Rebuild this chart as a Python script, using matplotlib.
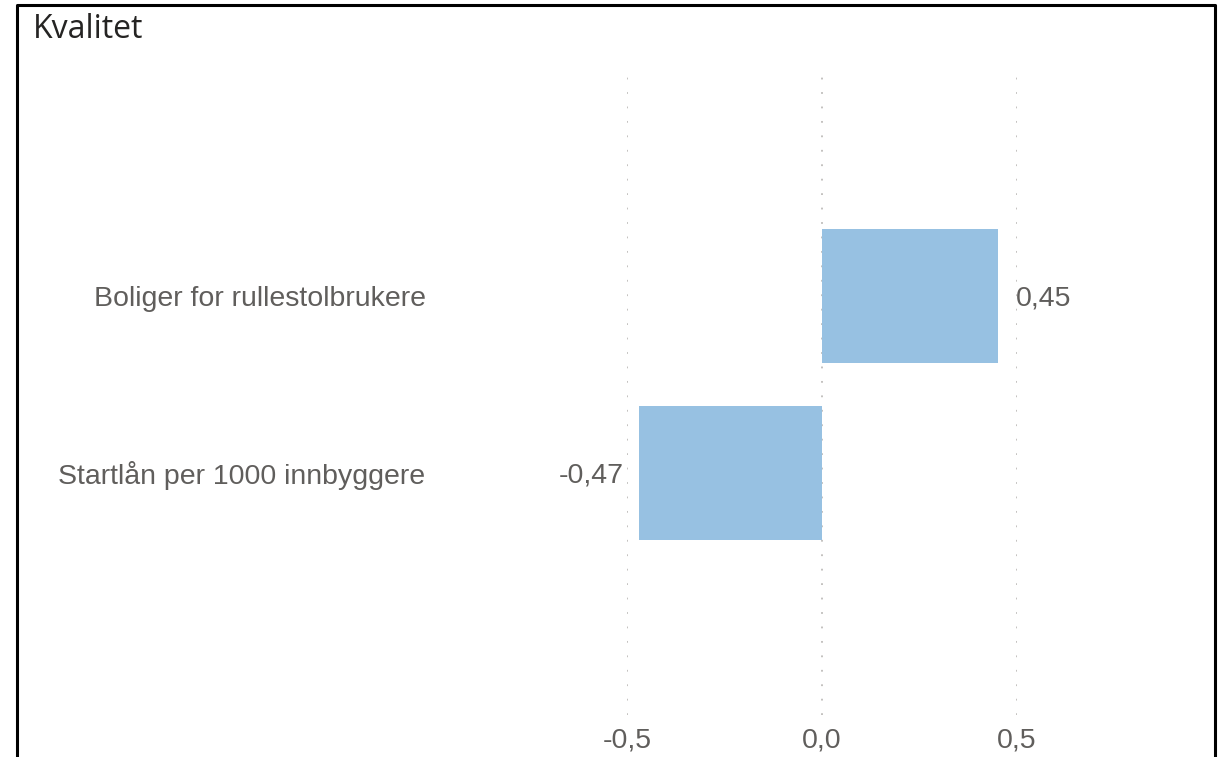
import matplotlib
matplotlib.use("Agg")
import matplotlib.pyplot as plt
from matplotlib.lines import Line2D

categories = ["Boliger for rullestolbrukere", "Startlån per 1000 innbyggere"]
values = [0.45, -0.47]
xticks = [-0.5, 0.0, 0.5]
title = "Kvalitet"

W, H = 1226, 757
fig = plt.figure(figsize=(W / 100, H / 100), dpi=100)
plt.rcParams['font.family'] = ['Liberation Sans', 'DejaVu Sans']

# axes placed so that -0.5..0.5 spans the gridline positions
ax = fig.add_axes([627 / W, 1 - 715 / H, 390 / W, 640 / H])
ypos = list(range(len(categories)))
ax.barh(ypos, values, height=0.757, color="#97C1E2", zorder=2)
ax.set_xlim(-0.5, 0.5)
ax.set_ylim(2.37, -1.25)

ax.set_xticks(xticks)
ax.set_xticklabels([f"{t:.1f}".replace(".", ",") for t in xticks])
ax.set_yticks(ypos)
ax.set_yticklabels(categories)
ax.tick_params(axis='both', length=0, labelsize=20.5, colors="#605E5C")
ax.tick_params(axis='x', pad=9)
ax.tick_params(axis='y', pad=145)
ax.grid(axis='x', color="#BEBCBA", linestyle=(0, (1, 7)), linewidth=1.3, zorder=0)
for s in ax.spines.values():
    s.set_visible(False)

for y, v in zip(ypos, values):
    lab = f"{v:.2f}".replace(".", ",")
    if v >= 0:
        ax.annotate(lab, (v, y), xytext=(13, -2), textcoords="offset points",
                    ha="left", va="center", fontsize=20.5, color="#605E5C",
                    annotation_clip=False)
    else:
        ax.annotate(lab, (v, y), xytext=(-11, -2), textcoords="offset points",
                    ha="right", va="center", fontsize=20.5, color="#605E5C",
                    annotation_clip=False)

fig.text(33 / W, 1 - 30 / H, title, fontsize=23, color="#252423",
         family=["Open Sans", "DejaVu Sans"], ha="left", va="center")

# black frame (no bottom edge)
x0, x1, yt = 17 / W, 1215 / W, 1 - 5 / H
fig.add_artist(Line2D([x0, x0, x1, x1], [0, yt, yt, 0], color="black",
                      linewidth=2.2, transform=fig.transFigure))

fig.savefig("out.png", dpi=100)
